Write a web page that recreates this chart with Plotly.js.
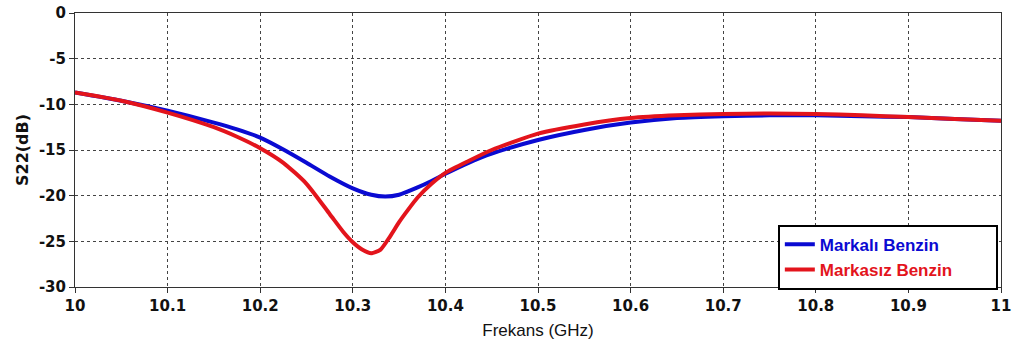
<!DOCTYPE html>
<html>
<head>
<meta charset="utf-8">
<script src="https://cdn.plot.ly/plotly-3.0.1.min.js"></script>
<style>html,body{margin:0;padding:0;background:#fff;}#chart{width:1017px;height:347px;}</style>
</head>
<body>
<div id="chart"></div>
<script>
// Frequency (GHz) and S22 (dB)
const freqBlue = [10.0, 10.05, 10.1, 10.15, 10.175, 10.2, 10.225, 10.25, 10.275, 10.3, 10.32, 10.335, 10.35, 10.37, 10.385, 10.4, 10.425, 10.45, 10.5, 10.55, 10.6, 10.65, 10.7, 10.75, 10.8, 10.85, 10.9, 10.95, 11.0];
const s22Blue  = [-8.7, -9.6, -10.7, -12.0, -12.75, -13.65, -14.95, -16.4, -17.9, -19.2, -19.9, -20.1, -19.9, -19.1, -18.4, -17.6, -16.4, -15.4, -13.9, -12.8, -12.0, -11.5, -11.3, -11.2, -11.2, -11.3, -11.4, -11.6, -11.8];

const freqRed = [10.0, 10.05, 10.1, 10.15, 10.175, 10.2, 10.225, 10.25, 10.275, 10.29, 10.3, 10.31, 10.32, 10.33, 10.34, 10.35, 10.36, 10.37, 10.385, 10.4, 10.425, 10.45, 10.5, 10.55, 10.6, 10.65, 10.7, 10.75, 10.8, 10.85, 10.9, 10.95, 11.0];
const s22Red  = [-8.7, -9.6, -10.9, -12.5, -13.55, -14.8, -16.4, -18.7, -22.0, -24.0, -25.1, -25.9, -26.3, -25.9, -24.5, -22.9, -21.5, -20.2, -18.7, -17.5, -16.2, -15.0, -13.2, -12.2, -11.5, -11.2, -11.05, -11.0, -11.05, -11.2, -11.4, -11.6, -11.8];

const seriesNames = ["Markalı Benzin", "Markasız Benzin"];
const seriesColors = ["#0a0ad2", "#e3141c"];
const xTicks = [10, 10.1, 10.2, 10.3, 10.4, 10.5, 10.6, 10.7, 10.8, 10.9, 11];
const yTicks = [0, -5, -10, -15, -20, -25, -30];

const pad = "&nbsp;".repeat(8);
const traces = [
  {x: freqBlue, y: s22Blue, mode: "lines",
   name: '<span style="color:' + seriesColors[0] + '">' + seriesNames[0] + '</span>' + pad,
   line: {color: seriesColors[0], width: 4, shape: "spline", smoothing: 0.6}},
  {x: freqRed, y: s22Red, mode: "lines",
   name: '<span style="color:' + seriesColors[1] + '">' + seriesNames[1] + '</span>' + pad,
   line: {color: seriesColors[1], width: 4, shape: "spline", smoothing: 0.6}}
];

const tickFont = {family: "Tahoma, 'DejaVu Sans', sans-serif", size: 15, color: "#111", weight: "bold"};

const layout = {
  width: 1017, height: 347,
  margin: {l: 75, r: 16, t: 13, b: 60},
  paper_bgcolor: "#fff", plot_bgcolor: "#fff",
  showlegend: true,
  legend: {
    x: 0.759, y: 0.227, xanchor: "left", yanchor: "top",
    bgcolor: "#fff", bordercolor: "#000", borderwidth: 2,
    font: {family: "'Liberation Sans', Arial, sans-serif", size: 17, weight: "bold"},
    tracegroupgap: 0, itemwidth: 30
  },
  xaxis: {
    range: [10, 11], tickvals: xTicks, ticktext: xTicks.map(String),
    showgrid: true, gridcolor: "#444", griddash: "dot", gridwidth: 1,
    showline: true, linecolor: "#333", linewidth: 1, mirror: true,
    ticks: "outside", ticklen: 5, tickcolor: "#333",
    tickfont: tickFont,
    zeroline: false,
    title: {text: "Frekans (GHz)", standoff: 10,
            font: {family: "'Liberation Sans', Arial, sans-serif", size: 17, color: "#111"}}
  },
  yaxis: {
    range: [-30, 0], tickvals: yTicks, ticktext: yTicks.map(String),
    showgrid: true, gridcolor: "#444", griddash: "dot", gridwidth: 1,
    showline: true, linecolor: "#333", linewidth: 1, mirror: true,
    ticks: "outside", ticklen: 5, tickcolor: "#333",
    tickfont: tickFont,
    zeroline: false,
    title: {text: "S22(dB)", standoff: 6,
            font: {family: "Tahoma, 'DejaVu Sans', sans-serif", size: 16, color: "#111", weight: "bold"}}
  }
};

Plotly.newPlot("chart", traces, layout, {displayModeBar: false, staticPlot: true});
</script>
</body>
</html>
